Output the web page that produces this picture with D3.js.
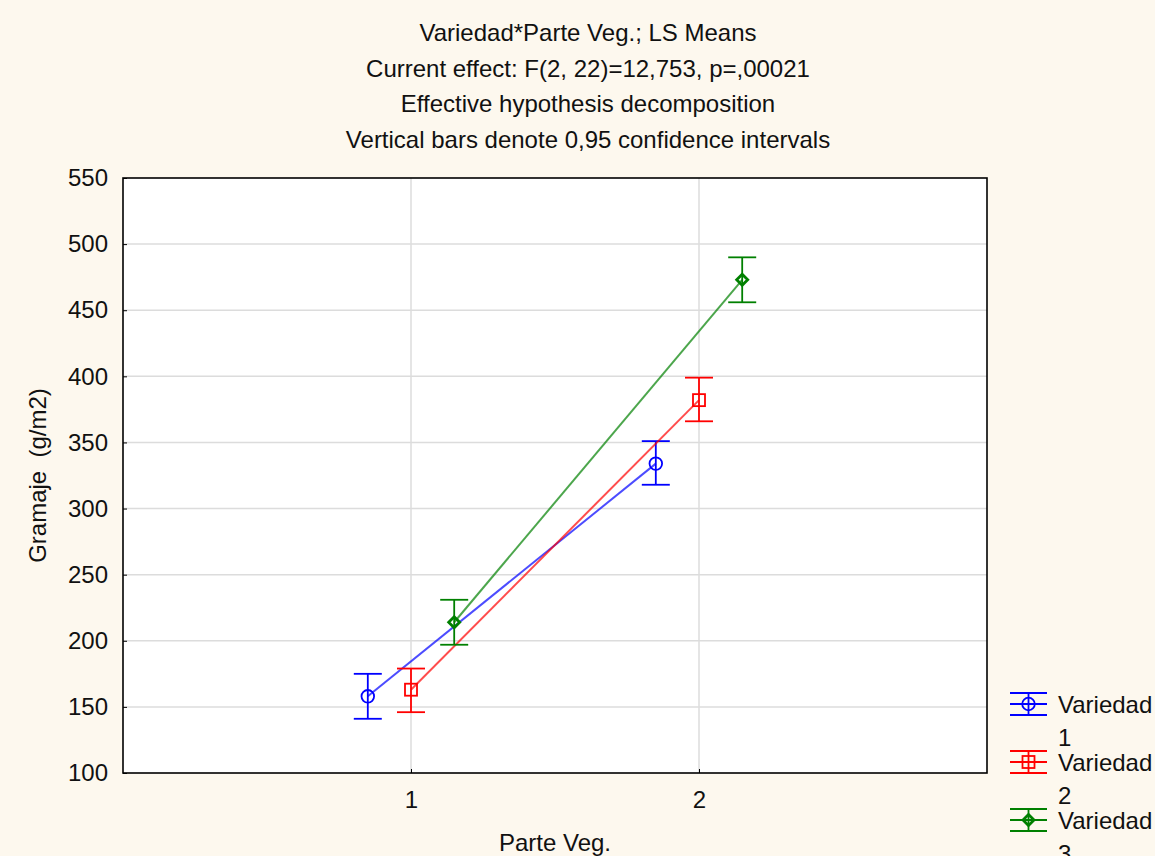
<!DOCTYPE html>
<style>
  html, body { margin:0; background:#fdf8ee; }
  svg { display:block; font-family:"Liberation Sans", Arial, sans-serif; }
</style>
<svg width="1155" height="856"></svg>
<script src="https://d3js.org/d3.v7.min.js"></script>
<script>

var titles = ["Variedad*Parte Veg.; LS Means",
              "Current effect: F(2, 22)=12,753, p=,00021",
              "Effective hypothesis decomposition",
              "Vertical bars denote 0,95 confidence intervals"];
var parts = [1, 2];
var yTicks = [100, 150, 200, 250, 300, 350, 400, 450, 500, 550];
var seriesNames = ["Variedad", "Variedad", "Variedad"];
var seriesIds = ["1", "2", "3"];
var colors = ["#0000ff", "#ff0000", "#008000"];
var means = [[158, 334], [163, 382], [214, 473]];
var lower = [[141, 318], [146, 366], [197, 456]];
var upper = [[175, 351], [179, 399], [231, 490]];
var offsets = [-0.15, 0, 0.15];

var svg = d3.select("svg");
var pl = 123, pr = 987, pt = 178, pb = 773;

var x = d3.scaleLinear().domain([0, 3]).range([pl, pr]);
var y = d3.scaleLinear().domain([100, 550]).range([pb, pt]);

svg.append("rect").attr("x", pl).attr("y", pt)
    .attr("width", pr - pl).attr("height", pb - pt).attr("fill", "#fff");

svg.selectAll(".title").data(titles).enter().append("text")
    .attr("x", 588).attr("y", function(d, i) { return 41 + i * 35.7; })
    .attr("text-anchor", "middle").attr("font-size", 24).attr("fill", "#111")
    .text(function(d) { return d; });

// grid
svg.append("g").selectAll("line").data(yTicks.slice(1, -1)).enter().append("line")
    .attr("x1", pl).attr("x2", pr)
    .attr("y1", function(d) { return y(d); }).attr("y2", function(d) { return y(d); })
    .attr("stroke", "#dcdcdc").attr("stroke-width", 1.5);
svg.append("g").selectAll("line").data(parts).enter().append("line")
    .attr("y1", pt).attr("y2", pb)
    .attr("x1", function(d) { return x(d); }).attr("x2", function(d) { return x(d); })
    .attr("stroke", "#dcdcdc").attr("stroke-width", 1.5);

// axes
var yAxis = svg.append("g").attr("transform", "translate(" + pl + ",0)")
    .call(d3.axisLeft(y).tickValues(yTicks).tickSize(-4).tickPadding(15));
var xAxis = svg.append("g").attr("transform", "translate(0," + pb + ")")
    .call(d3.axisBottom(x).tickValues(parts).tickFormat(d3.format("d")).tickSize(-4).tickPadding(18));
[yAxis, xAxis].forEach(function(a) {
  a.select(".domain").remove();
  a.selectAll("line").attr("stroke", "#000");
  a.selectAll("text").attr("font-size", 24).attr("fill", "#111")
      .attr("font-family", "Liberation Sans, Arial, sans-serif");
});

svg.append("rect").attr("x", pl).attr("y", pt)
    .attr("width", pr - pl).attr("height", pb - pt)
    .attr("fill", "none").attr("stroke", "#000").attr("stroke-width", 1.6);

svg.append("text").attr("transform", "translate(46," + (pt + pb) / 2 + ") rotate(-90)")
    .attr("text-anchor", "middle").attr("font-size", 24).attr("fill", "#111")
    .style("white-space", "pre").text("Gramaje  (g/m2)");
svg.append("text").attr("x", (pl + pr) / 2).attr("y", 851)
    .attr("text-anchor", "middle").attr("font-size", 24).attr("fill", "#111")
    .text("Parte Veg.");

function marker(g, k, cx, cy, c) {
  if (k === 0) {
    g.append("circle").attr("cx", cx).attr("cy", cy).attr("r", 6.3)
        .attr("fill", "none").attr("stroke", c).attr("stroke-width", 1.8);
  } else if (k === 1) {
    g.append("rect").attr("x", cx - 6).attr("y", cy - 6).attr("width", 12).attr("height", 12)
        .attr("fill", "none").attr("stroke", c).attr("stroke-width", 1.8);
  } else {
    g.append("path").attr("d", "M" + cx + "," + (cy - 5.5) + "L" + (cx + 5.5) + "," + cy +
        "L" + cx + "," + (cy + 5.5) + "L" + (cx - 5.5) + "," + cy + "Z")
        .attr("fill", "none").attr("stroke", c).attr("stroke-width", 2.8);
  }
}

var line = d3.line();
means.forEach(function(m, k) {
  var g = svg.append("g");
  var c = colors[k];
  var pts = parts.map(function(p, j) { return [x(p + offsets[k]), y(m[j])]; });
  g.append("path").attr("d", line(pts)).attr("fill", "none")
      .attr("stroke", c).attr("stroke-width", 2).attr("opacity", 0.7);
  parts.forEach(function(p, j) {
    var px = x(p + offsets[k]);
    g.append("line").attr("x1", px).attr("x2", px)
        .attr("y1", y(lower[k][j])).attr("y2", y(upper[k][j]))
        .attr("stroke", c).attr("stroke-width", 1.8);
    [lower[k][j], upper[k][j]].forEach(function(v) {
      g.append("line").attr("x1", px - 14).attr("x2", px + 14)
          .attr("y1", y(v)).attr("y2", y(v)).attr("stroke", c).attr("stroke-width", 1.8);
    });
    marker(g, k, px, y(m[j]), c);
  });
});

// legend
seriesNames.forEach(function(name, k) {
  var cy = 704 + k * 58, c = colors[k];
  var g = svg.append("g");
  [-11, 0, 11].forEach(function(dy) {
    g.append("line").attr("x1", 1010).attr("x2", 1047).attr("y1", cy + dy).attr("y2", cy + dy)
        .attr("stroke", c).attr("stroke-width", 1.8);
  });
  g.append("line").attr("x1", 1028.5).attr("x2", 1028.5).attr("y1", cy - 11).attr("y2", cy + 11)
      .attr("stroke", c).attr("stroke-width", 1.8);
  marker(g, k, 1028.5, cy, c);
  g.append("text").attr("x", 1058).attr("y", cy + 9).attr("font-size", 24).attr("fill", "#111").text(name);
  g.append("text").attr("x", 1058).attr("y", cy + 42).attr("font-size", 24).attr("fill", "#111").text(seriesIds[k]);
});

</script>
